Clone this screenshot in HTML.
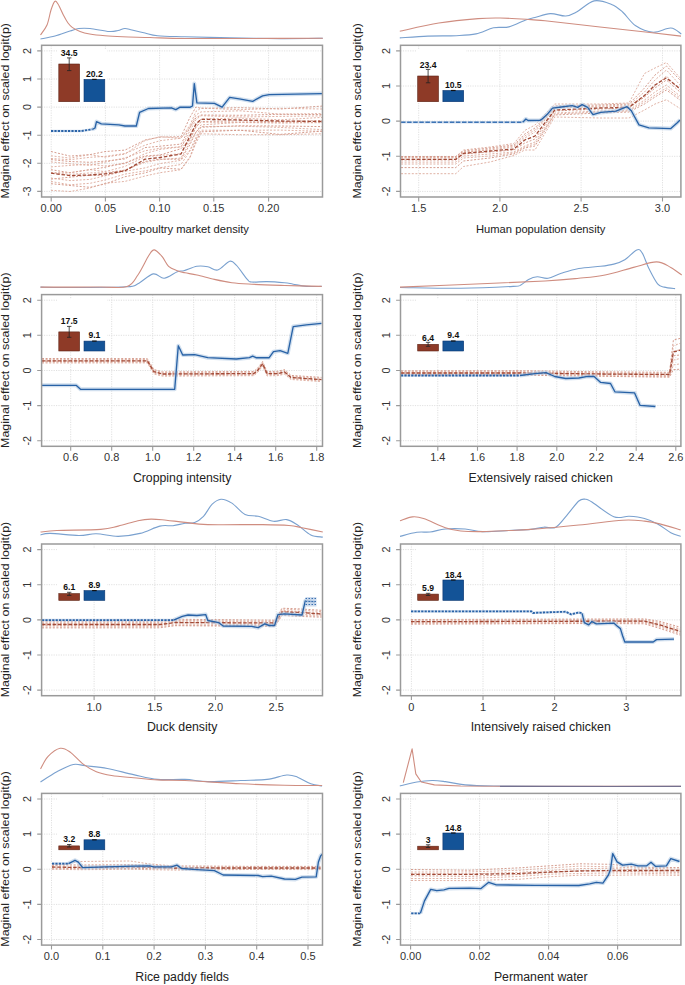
<!DOCTYPE html><html><head><meta charset="utf-8"><style>html,body{margin:0;padding:0;background:#fff;}svg{display:block;}</style></head><body>
<svg width="685" height="985" viewBox="0 0 685 985" font-family='"Liberation Sans", sans-serif'>
<rect width="685" height="985" fill="#fff"/>
<clipPath id="c00"><rect x="41.6" y="45.3" width="280.9" height="151.7"/></clipPath>
<path d="M41.6,191.4H322.5M41.6,163.3H322.5M41.6,135.2H322.5M41.6,107.1H322.5M41.6,79H322.5M41.6,50.9H322.5M51.2,45.3V197M105.4,45.3V197M159.6,45.3V197M213.8,45.3V197M268.6,45.3V197" stroke="#e0e0e0" stroke-width="1" stroke-dasharray="1.2,1.2" fill="none"/>
<rect x="57.1" y="49.8" width="50" height="53" fill="#fff"/>
<g clip-path="url(#c00)" fill="none">
<polyline points="51,151.5 70,156.1 90,154.6 105,151.6 125,150.1 145,140 160,137.1 181,136.7 190,117.2 196,107 201,108.4 240,107.7 280,109 322,106.1" stroke="#d09282" stroke-width="0.9" stroke-dasharray="2,1.6"/>
<polyline points="51,155.8 70,158.1 90,154.6 105,157.2 125,154.1 145,140.6 160,136.7 181,138.2 190,125 196,111.4 201,108.1 240,109.7 280,108.3 322,109" stroke="#dda99b" stroke-width="0.9" stroke-dasharray="2,1.6"/>
<polyline points="51,158.5 70,159.7 90,157.3 105,156.4 125,153.5 145,145.2 160,140.7 181,138.2 190,127.4 196,114.9 201,111.9 240,110.8 280,114.1 322,113.6" stroke="#dda99b" stroke-width="0.9" stroke-dasharray="2,1.6"/>
<polyline points="51,159.6 70,161.5 90,162.3 105,161.1 125,158.9 145,147.6 160,146.2 181,144.1 190,127.4 196,117.7 201,115 240,115.3 280,114.3 322,114.6" stroke="#d09282" stroke-width="0.9" stroke-dasharray="2,1.6"/>
<polyline points="51,161.9 70,163.8 90,165.4 105,162.2 125,157.9 145,150.8 160,148.2 181,146.8 190,130.8 196,119.6 201,115.7 240,117 280,116.4 322,115.9" stroke="#dda99b" stroke-width="0.9" stroke-dasharray="2,1.6"/>
<polyline points="51,166.9 70,165.4 90,164.3 105,166 125,163.6 145,153.6 160,149.4 181,146.9 190,134.5 196,124.9 201,118.9 240,118.1 280,119.8 322,117.4" stroke="#dda99b" stroke-width="0.9" stroke-dasharray="2,1.6"/>
<polyline points="51,169.7 70,172.7 90,169.6 105,167.3 125,162.9 145,155.9 160,155 181,148.7 190,139.1 196,126.8 201,121.5 240,120.9 280,121.7 322,120.5" stroke="#d09282" stroke-width="0.9" stroke-dasharray="2,1.6"/>
<polyline points="51,172.7 70,172.7 90,169.6 105,171.7 125,166.4 145,156.8 160,155.4 181,153.7 190,139.7 196,127.1 201,122.2 240,122.5 280,123 322,122.4" stroke="#dda99b" stroke-width="0.9" stroke-dasharray="2,1.6"/>
<polyline points="51,172.7 70,174.4 90,172.9 105,172.8 125,170 145,162.3 160,159.6 181,158 190,142.1 196,132.2 201,124.9 240,122.4 280,122.7 322,122.7" stroke="#dda99b" stroke-width="0.9" stroke-dasharray="2,1.6"/>
<polyline points="51,179.1 70,177.2 90,175.2 105,175.5 125,170.1 145,161.4 160,159.1 181,159.2 190,144.6 196,132 201,127.2 240,125.8 280,126 322,126.6" stroke="#d09282" stroke-width="0.9" stroke-dasharray="2,1.6"/>
<polyline points="51,178.1 70,180.6 90,179.4 105,175.9 125,171.3 145,167.9 160,163.6 181,160.3 190,150.1 196,137.3 201,126.6 240,126.2 280,127.4 322,129.6" stroke="#dda99b" stroke-width="0.9" stroke-dasharray="2,1.6"/>
<polyline points="51,181.5 70,184.8 90,183.3 105,180 125,174.1 145,170.9 160,167.7 181,164.5 190,150.9 196,139.1 201,130.2 240,130.3 280,130.1 322,131.3" stroke="#dda99b" stroke-width="0.9" stroke-dasharray="2,1.6"/>
<polyline points="51,183.7 70,185.5 90,187.3 105,184 125,176.7 145,172.9 160,168 181,169.2 190,156.9 196,140.6 201,131.8 240,130.2 280,134.4 322,131.1" stroke="#d09282" stroke-width="0.9" stroke-dasharray="2,1.6"/>
<polyline points="51,190.3 70,191.5 90,188 105,183.3 125,181.4 145,176 160,172.7 181,169.7 190,157.8 196,142.9 201,133.8 240,134.7 280,134.7 322,133.8" stroke="#dda99b" stroke-width="0.9" stroke-dasharray="2,1.6"/>
<polyline points="51,173.2 70,175.6 90,175 105,173.9 125,170.9 145,159.2 160,157.5 181,154 190,136 196,124 201,119.3 240,120 280,121 322,121.5" stroke="#a24a37" stroke-width="1.3" stroke-dasharray="3.5,1.8"/>
<polyline points="51,131 81.6,131 92.5,129.3" stroke="#a9c1e0" stroke-width="2.6" opacity="0.5"/>
<polyline points="51,131 81.6,131 92.5,129.3" stroke="#2a63a8" stroke-width="1.8" stroke-dasharray="2.2,1.2"/>
<polyline points="92.5,129.3 95,128 96.5,121.6 101.3,123.8 118.8,124.9 125,126 136.3,126 139.6,112.4 148.4,108.5 171.4,107.8 175.8,109.6 180.1,107.2 190.3,107.2 192.5,106 194.3,83.6 196.9,102.8 214.4,103.3 222.1,107.2 229.7,97.4 240.7,99.1 252.7,101.3 262.6,95.8 269.2,94.7 322,93.6" stroke="#b3c9e3" stroke-width="4" stroke-linejoin="round" opacity="0.6"/>
<polyline points="92.5,129.3 95,128 96.5,121.6 101.3,123.8 118.8,124.9 125,126 136.3,126 139.6,112.4 148.4,108.5 171.4,107.8 175.8,109.6 180.1,107.2 190.3,107.2 192.5,106 194.3,83.6 196.9,102.8 214.4,103.3 222.1,107.2 229.7,97.4 240.7,99.1 252.7,101.3 262.6,95.8 269.2,94.7 322,93.6" stroke="#2862a6" stroke-width="1.35" stroke-linejoin="round"/>
</g>
<rect x="58.8" y="64" width="20.8" height="37.7" fill="#8e3a27" stroke="#5e2414" stroke-width="0.6"/>
<rect x="84" y="79.4" width="20.8" height="22.3" fill="#135397" stroke="#0b3670" stroke-width="0.6"/>
<path d="M69.2,57.9V70.6M67,57.9h4.4M67,70.6h4.4" stroke="#222" stroke-width="0.8" fill="none"/>
<path d="M92.1,79.4h4.6" stroke="#111" stroke-width="1.2"/>
<text x="69.2" y="55.7" font-size="8.6" font-weight="bold" text-anchor="middle" fill="#111">34.5</text>
<text x="94.4" y="76.9" font-size="8.6" font-weight="bold" text-anchor="middle" fill="#111">20.2</text>
<rect x="41.6" y="45.3" width="280.9" height="151.7" fill="none" stroke="#9a9a9a" stroke-width="1.5"/>
<path d="M37.2,191.4H41.6M37.2,163.3H41.6M37.2,135.2H41.6M37.2,107.1H41.6M37.2,79H41.6M37.2,50.9H41.6M51.2,197V201.4M105.4,197V201.4M159.6,197V201.4M213.8,197V201.4M268.6,197V201.4" stroke="#9a9a9a" stroke-width="1.1" fill="none"/>
<text transform="translate(31.4,191.4) rotate(-90)" font-size="10.8" text-anchor="middle" fill="#333">-3</text>
<text transform="translate(31.4,163.3) rotate(-90)" font-size="10.8" text-anchor="middle" fill="#333">-2</text>
<text transform="translate(31.4,135.2) rotate(-90)" font-size="10.8" text-anchor="middle" fill="#333">-1</text>
<text transform="translate(31.4,107.1) rotate(-90)" font-size="10.8" text-anchor="middle" fill="#333">0</text>
<text transform="translate(31.4,79) rotate(-90)" font-size="10.8" text-anchor="middle" fill="#333">1</text>
<text transform="translate(31.4,50.9) rotate(-90)" font-size="10.8" text-anchor="middle" fill="#333">2</text>
<text x="51.2" y="212.1" font-size="11" text-anchor="middle" fill="#333">0.00</text>
<text x="105.4" y="212.1" font-size="11" text-anchor="middle" fill="#333">0.05</text>
<text x="159.6" y="212.1" font-size="11" text-anchor="middle" fill="#333">0.10</text>
<text x="213.8" y="212.1" font-size="11" text-anchor="middle" fill="#333">0.15</text>
<text x="268.6" y="212.1" font-size="11" text-anchor="middle" fill="#333">0.20</text>
<text x="182.1" y="233.1" font-size="11.2" text-anchor="middle" fill="#222">Live-poultry market density</text>
<text transform="translate(8.9,110.8) rotate(-90)" font-size="11.3" text-anchor="middle" fill="#222" textLength="175.5" lengthAdjust="spacingAndGlyphs">Maginal effect on scaled logit(p)</text>
<path d="M40.5,39 C42.9,38.5 50.1,37.3 55,36 C59.9,34.7 66,32.2 70,31 C74,29.8 75.5,28.9 78.8,28.5 C82.1,28.1 84.9,28 90,28.5 C95.1,29 104.7,31.2 109.4,31.5 C114.1,31.8 115.4,31 118,30.5 C120.6,30 122.5,28.6 124.8,28.5 C127.1,28.4 128.6,29.2 132,30 C135.4,30.8 140.7,32 145,33 C149.3,34 150.9,35.1 157.6,35.7 C164.3,36.3 172.9,36.4 185,36.8 C197.1,37.1 214.2,37.5 230,37.8 C245.8,38.1 264.5,38.5 280,38.6 C295.5,38.7 315.7,38.3 322.8,38.2" stroke="#7aa1cf" stroke-width="1.1" fill="none"/>
<path d="M40.5,35 C41.6,33.3 45.2,29.2 47,25 C48.8,20.8 49.7,13.9 51,10 C52.3,6.1 53.5,2.5 54.7,1.5 C55.9,0.5 56.5,1.7 58,4 C59.5,6.3 61.8,12.1 63.5,15.3 C65.2,18.5 66.5,21 68,23 C69.5,25 70.2,26 72.2,27.4 C74.2,28.8 77.1,30.4 80,31.5 C82.9,32.6 85.5,33.3 89.7,34 C93.9,34.7 99.5,35.3 105,35.8 C110.5,36.3 115.1,36.5 122.6,36.8 C130.1,37.1 139.6,37.2 150,37.5 C160.4,37.8 168.3,38.3 185,38.5 C201.7,38.7 227,38.5 250,38.5 C273,38.5 310.7,38.2 322.8,38.2" stroke="#cf8d80" stroke-width="1.1" fill="none" stroke-linejoin="round"/>
<clipPath id="c01"><rect x="400.5" y="45.3" width="280.4" height="151.7"/></clipPath>
<path d="M400.5,191.4H680.9M400.5,156.3H680.9M400.5,121.1H680.9M400.5,86H680.9M400.5,50.9H680.9M418.7,45.3V197M499.9,45.3V197M581.1,45.3V197M662.5,45.3V197" stroke="#e0e0e0" stroke-width="1" stroke-dasharray="1.2,1.2" fill="none"/>
<rect x="416" y="49.8" width="50" height="53" fill="#fff"/>
<g clip-path="url(#c01)" fill="none">
<polyline points="401,156.6 455.8,156.6 463.5,150 490,147 513.9,143.5 524.8,130.4 535,125 554.7,104 600,104 629,103 644.5,73.5 655,68 666.4,62.5 680,77.8" stroke="#dda99b" stroke-width="0.9" stroke-dasharray="2,1.6"/>
<polyline points="401,156.6 455.8,156.6 463.5,151 490,148 513.9,145 524.8,134 535,128 554.7,106 600,105 629,104 644.5,88 655,75 666.4,66 680,80" stroke="#d09282" stroke-width="0.9" stroke-dasharray="2,1.6"/>
<polyline points="401,157.5 455.8,157.5 463.5,152 490,150 513.9,147 524.8,138 535,132 554.7,108 600,106 629,105 644.5,92 655,80 666.4,70 680,85" stroke="#dda99b" stroke-width="0.9" stroke-dasharray="2,1.6"/>
<polyline points="401,158 455.8,158 463.5,152.5 490,149 513.9,146 524.8,136 535,130 554.7,107 600,107 629,106 644.5,96 655,86 666.4,76 680,90" stroke="#dda99b" stroke-width="0.9" stroke-dasharray="2,1.6"/>
<polyline points="401,160 455.8,160 463.5,154 490,152 513.9,150 524.8,143 535,139 554.7,111 600,109 629,108 644.5,97 655,88 666.4,80 680,92" stroke="#d09282" stroke-width="0.9" stroke-dasharray="2,1.6"/>
<polyline points="401,162.1 455.8,162.1 463.5,156 490,154 513.9,152 524.8,146 535,142 554.7,113 600,111 629,110 644.5,100 655,92 666.4,85 680,96" stroke="#dda99b" stroke-width="0.9" stroke-dasharray="2,1.6"/>
<polyline points="401,164 455.8,164 463.5,158 490,156 513.9,153 524.8,147 535,144 554.7,114 600,112 629,111 644.5,102 655,95 666.4,88 680,98" stroke="#dda99b" stroke-width="0.9" stroke-dasharray="2,1.6"/>
<polyline points="401,167.6 455.8,167.6 463.5,161 490,158 513.9,154 524.8,148 535,146 554.7,115 600,113 629,112 644.5,104 655,97 666.4,90 680,100" stroke="#d09282" stroke-width="0.9" stroke-dasharray="2,1.6"/>
<polyline points="401,173.7 455.8,173.7 463.5,166.5 490,162 513.9,155.5 524.8,150 535,150 554.7,117 600,118 629,118 644.5,110 655,104 666.4,99.7 680,108.5" stroke="#dda99b" stroke-width="0.9" stroke-dasharray="2,1.6"/>
<polyline points="401,159.3 455.8,159.3 463.5,153.4 490,151 513.9,149 524.8,140 535,136 554.7,110 600,108 629,107.4 644.5,95.4 655,85 666.4,77.8 680,88.8" stroke="#a24a37" stroke-width="1.3" stroke-dasharray="3.5,1.8"/>
<polyline points="401,122.3 522.6,122.3" stroke="#a9c1e0" stroke-width="2.6" opacity="0.5"/>
<polyline points="401,122.3 522.6,122.3" stroke="#3d74b5" stroke-width="1.5" stroke-dasharray="4.5,1.6"/>
<polyline points="522.6,122.3 524,121 525.9,119 528,120.5 540,120.3 541.6,119.4 547,114.6 552.5,108.1 561.3,107 572.2,105.7 577.7,107.4 582.1,104.6 587.6,107.4 593,114.6 600.7,112.4 616,111.1 627,106.7 631.3,110.7 639,124.9 648.9,127.8 670.8,128.6 677.3,122.7 680,120" stroke="#b3c9e3" stroke-width="4" stroke-linejoin="round" opacity="0.6"/>
<polyline points="522.6,122.3 524,121 525.9,119 528,120.5 540,120.3 541.6,119.4 547,114.6 552.5,108.1 561.3,107 572.2,105.7 577.7,107.4 582.1,104.6 587.6,107.4 593,114.6 600.7,112.4 616,111.1 627,106.7 631.3,110.7 639,124.9 648.9,127.8 670.8,128.6 677.3,122.7 680,120" stroke="#2862a6" stroke-width="1.35" stroke-linejoin="round"/>
</g>
<rect x="417.7" y="76" width="20.8" height="25.7" fill="#8e3a27" stroke="#5e2414" stroke-width="0.6"/>
<rect x="442.9" y="90.5" width="20.8" height="11.2" fill="#135397" stroke="#0b3670" stroke-width="0.6"/>
<path d="M428.1,69.4V82.8M425.9,69.4h4.4M425.9,82.8h4.4" stroke="#222" stroke-width="0.8" fill="none"/>
<path d="M451,90.5h4.6" stroke="#111" stroke-width="1.2"/>
<text x="428.1" y="67.5" font-size="8.6" font-weight="bold" text-anchor="middle" fill="#111">23.4</text>
<text x="453.3" y="87.9" font-size="8.6" font-weight="bold" text-anchor="middle" fill="#111">10.5</text>
<rect x="400.5" y="45.3" width="280.4" height="151.7" fill="none" stroke="#9a9a9a" stroke-width="1.5"/>
<path d="M396.1,191.4H400.5M396.1,156.3H400.5M396.1,121.1H400.5M396.1,86H400.5M396.1,50.9H400.5M418.7,197V201.4M499.9,197V201.4M581.1,197V201.4M662.5,197V201.4" stroke="#9a9a9a" stroke-width="1.1" fill="none"/>
<text transform="translate(390.3,191.4) rotate(-90)" font-size="10.8" text-anchor="middle" fill="#333">-2</text>
<text transform="translate(390.3,156.3) rotate(-90)" font-size="10.8" text-anchor="middle" fill="#333">-1</text>
<text transform="translate(390.3,121.1) rotate(-90)" font-size="10.8" text-anchor="middle" fill="#333">0</text>
<text transform="translate(390.3,86) rotate(-90)" font-size="10.8" text-anchor="middle" fill="#333">1</text>
<text transform="translate(390.3,50.9) rotate(-90)" font-size="10.8" text-anchor="middle" fill="#333">2</text>
<text x="418.7" y="212.1" font-size="11" text-anchor="middle" fill="#333">1.5</text>
<text x="499.9" y="212.1" font-size="11" text-anchor="middle" fill="#333">2.0</text>
<text x="581.1" y="212.1" font-size="11" text-anchor="middle" fill="#333">2.5</text>
<text x="662.5" y="212.1" font-size="11" text-anchor="middle" fill="#333">3.0</text>
<text x="540.7" y="233.1" font-size="11.2" text-anchor="middle" fill="#222">Human population density</text>
<text transform="translate(361,110.8) rotate(-90)" font-size="11.3" text-anchor="middle" fill="#222" textLength="175.5" lengthAdjust="spacingAndGlyphs">Maginal effect on scaled logit(p)</text>
<path d="M399.8,37.9 C404.5,37.6 418.4,36.5 427.8,36.1 C437.2,35.7 448.3,36.1 456.3,35.7 C464.3,35.3 469.8,35.2 476,33.9 C482.2,32.6 488,29 493.5,27.8 C499,26.6 503.4,28.2 508.9,26.9 C514.4,25.5 522,21.3 526.4,19.7 C530.8,18.1 531,18.5 535,17.5 C539,16.5 545.2,13.8 550.3,13.6 C555.4,13.3 561.3,16.3 565.7,16 C570.1,15.7 571.9,14.5 576.6,12 C581.3,9.5 588.3,2.2 594.1,0.9 C599.9,-0.4 606.9,2.6 611.6,4.4 C616.4,6.2 618.6,8.4 622.6,12 C626.6,15.6 630.6,22.4 635.7,25.8 C640.8,29.2 647.4,31.8 653.2,32.2 C659.1,32.6 666.1,27.7 670.8,28 C675.5,28.3 679.5,32.9 681.3,33.9" stroke="#7aa1cf" stroke-width="1.1" fill="none"/>
<path d="M399.8,31.3 C406.3,29.9 425.7,25.1 438.8,23 C451.9,20.9 468,19.4 478.2,18.6 C488.4,17.8 492.1,17.9 500.1,18 C508.1,18.1 518.9,18.8 526.4,19.3 C533.9,19.8 532.7,19.5 545,20.8 C557.3,22.1 582.5,25.1 600,27 C617.5,28.9 636.5,31 650,32.5 C663.5,34 675.8,35.5 681,36.1" stroke="#cf8d80" stroke-width="1.1" fill="none" stroke-linejoin="round"/>
<clipPath id="c10"><rect x="41.6" y="294.6" width="280.9" height="151.7"/></clipPath>
<path d="M41.6,440.7H322.5M41.6,405.6H322.5M41.6,370.5H322.5M41.6,335.3H322.5M41.6,300.2H322.5M70.7,294.6V446.3M111.7,294.6V446.3M152.7,294.6V446.3M193.7,294.6V446.3M234.7,294.6V446.3M275.7,294.6V446.3M316.7,294.6V446.3" stroke="#e0e0e0" stroke-width="1" stroke-dasharray="1.2,1.2" fill="none"/>
<rect x="57.1" y="299.1" width="50" height="53" fill="#fff"/>
<g clip-path="url(#c10)" fill="none">
<polyline points="42,358.5 147.3,358.6 153.9,369.5 162.6,371.9 253.8,371.5 258,367.7 262.6,361.5 267,371.6 277.9,371.3 284.5,369.6 291,375.4 321.5,377.4" stroke="#d09282" stroke-width="0.9" stroke-dasharray="2,1.6"/>
<polyline points="42,359.6 147.3,359.5 153.9,370.4 162.6,372.6 253.8,372.3 258,368.8 262.6,362.5 267,372.4 277.9,372.4 284.5,370.4 291,376.2 321.5,378.3" stroke="#dda99b" stroke-width="0.9" stroke-dasharray="2,1.6"/>
<polyline points="42,360.3 147.3,360.2 153.9,371.4 162.6,373.6 253.8,373.2 258,369.7 262.6,363.4 267,373.3 277.9,373.1 284.5,371.6 291,376.9 321.5,379.3" stroke="#dda99b" stroke-width="0.9" stroke-dasharray="2,1.6"/>
<polyline points="42,361.4 147.3,361.1 153.9,372 162.6,374.3 253.8,374.2 258,370.4 262.6,364.3 267,374 277.9,374 284.5,372.3 291,377.8 321.5,380.1" stroke="#d09282" stroke-width="0.9" stroke-dasharray="2,1.6"/>
<polyline points="42,362.1 147.3,362.2 153.9,373.1 162.6,375.4 253.8,375 258,371.5 262.6,365.2 267,374.8 277.9,375 284.5,373.4 291,378.8 321.5,380.9" stroke="#dda99b" stroke-width="0.9" stroke-dasharray="2,1.6"/>
<polyline points="42,363 147.3,362.9 153.9,374 162.6,376.2 253.8,375.7 258,372 262.6,366.1 267,375.9 277.9,375.6 284.5,374.2 291,379.5 321.5,381.6" stroke="#dda99b" stroke-width="0.9" stroke-dasharray="2,1.6"/>
<polyline points="42,360.8 147.3,360.8 153.9,371.7 162.6,374 253.8,373.6 258,370 262.6,363.8 267,373.6 277.9,373.6 284.5,371.9 291,377.4 321.5,379.6" stroke="#a24a37" stroke-width="1.3" stroke-dasharray="3.5,1.8"/>
<polyline points="42,385.3 76.1,385.3 80.5,389.3 174.7,389.3 178.3,345.8 182.7,355 194.7,354.6 207.8,357.7 236.3,359 249.4,357.7 252.7,356.1 256,357.7 269.2,357.7 273.5,351.7 280.1,350.7 287.8,353.3 293.2,326.6 306.4,324.8 321.5,323.3" stroke="#b3c9e3" stroke-width="4" stroke-linejoin="round" opacity="0.6"/>
<polyline points="42,385.3 76.1,385.3 80.5,389.3 174.7,389.3 178.3,345.8 182.7,355 194.7,354.6 207.8,357.7 236.3,359 249.4,357.7 252.7,356.1 256,357.7 269.2,357.7 273.5,351.7 280.1,350.7 287.8,353.3 293.2,326.6 306.4,324.8 321.5,323.3" stroke="#2862a6" stroke-width="1.35" stroke-linejoin="round"/>
</g>
<rect x="58.8" y="331.9" width="20.8" height="19.1" fill="#8e3a27" stroke="#5e2414" stroke-width="0.6"/>
<rect x="84" y="341.1" width="20.8" height="9.9" fill="#135397" stroke="#0b3670" stroke-width="0.6"/>
<path d="M69.2,326.4V337.3M67,326.4h4.4M67,337.3h4.4" stroke="#222" stroke-width="0.8" fill="none"/>
<path d="M92.1,341.1h4.6" stroke="#111" stroke-width="1.2"/>
<text x="69.2" y="324.2" font-size="8.6" font-weight="bold" text-anchor="middle" fill="#111">17.5</text>
<text x="94.4" y="338.4" font-size="8.6" font-weight="bold" text-anchor="middle" fill="#111">9.1</text>
<rect x="41.6" y="294.6" width="280.9" height="151.7" fill="none" stroke="#9a9a9a" stroke-width="1.5"/>
<path d="M37.2,440.7H41.6M37.2,405.6H41.6M37.2,370.5H41.6M37.2,335.3H41.6M37.2,300.2H41.6M70.7,446.3V450.7M111.7,446.3V450.7M152.7,446.3V450.7M193.7,446.3V450.7M234.7,446.3V450.7M275.7,446.3V450.7M316.7,446.3V450.7" stroke="#9a9a9a" stroke-width="1.1" fill="none"/>
<text transform="translate(31.4,440.7) rotate(-90)" font-size="10.8" text-anchor="middle" fill="#333">-2</text>
<text transform="translate(31.4,405.6) rotate(-90)" font-size="10.8" text-anchor="middle" fill="#333">-1</text>
<text transform="translate(31.4,370.5) rotate(-90)" font-size="10.8" text-anchor="middle" fill="#333">0</text>
<text transform="translate(31.4,335.3) rotate(-90)" font-size="10.8" text-anchor="middle" fill="#333">1</text>
<text transform="translate(31.4,300.2) rotate(-90)" font-size="10.8" text-anchor="middle" fill="#333">2</text>
<text x="70.7" y="461.4" font-size="11" text-anchor="middle" fill="#333">0.6</text>
<text x="111.7" y="461.4" font-size="11" text-anchor="middle" fill="#333">0.8</text>
<text x="152.7" y="461.4" font-size="11" text-anchor="middle" fill="#333">1.0</text>
<text x="193.7" y="461.4" font-size="11" text-anchor="middle" fill="#333">1.2</text>
<text x="234.7" y="461.4" font-size="11" text-anchor="middle" fill="#333">1.4</text>
<text x="275.7" y="461.4" font-size="11" text-anchor="middle" fill="#333">1.6</text>
<text x="316.7" y="461.4" font-size="11" text-anchor="middle" fill="#333">1.8</text>
<text x="182.1" y="482.3" font-size="12.3" text-anchor="middle" fill="#222">Cropping intensity</text>
<text transform="translate(8.9,360.2) rotate(-90)" font-size="11.3" text-anchor="middle" fill="#222" textLength="175.5" lengthAdjust="spacingAndGlyphs">Maginal effect on scaled logit(p)</text>
<path d="M40.5,287.1 C47.1,287.2 65.6,287.6 80,287.5 C94.4,287.4 117.3,287.4 127,286.8 C136.7,286.2 133.5,286 137.9,283.8 C142.3,281.6 148.8,274.8 153.2,273.9 C157.6,273 160.2,278.7 164.2,278.3 C168.2,277.9 174,273 177.3,271.7 C180.6,270.4 180.5,271.6 183.8,270.7 C187.1,269.8 192.9,267 196.9,266.3 C200.9,265.6 204.3,266.1 207.8,266.7 C211.3,267.3 214,270.9 217.7,270 C221.3,269.1 226.6,262 229.7,261.2 C232.8,260.4 233.4,262.2 236.3,265.2 C239.2,268.2 244.8,276.6 247.3,279.4 C249.9,282.2 248.3,281.6 251.6,282 C254.9,282.4 261.5,281.5 267,281.6 C272.5,281.7 280.1,282.3 284.5,282.7 C288.9,283.1 289.6,283.6 293.2,284.2 C296.8,284.8 301.6,286 306.4,286.4 C311.1,286.8 319.1,286.4 321.7,286.4" stroke="#7aa1cf" stroke-width="1.1" fill="none"/>
<path d="M40.5,287.1 C50.4,287.1 85.6,287.1 100,287 C114.4,286.9 120.7,288.6 127,286.6 C133.3,284.6 134.2,280.2 137.9,275 C141.6,269.8 146.2,259.5 148.9,255.3 C151.6,251.1 152.1,249.7 154.3,249.9 C156.5,250.1 159.6,253.7 162,256.4 C164.4,259.1 166,263.9 168.6,266.3 C171.2,268.7 174.6,269.6 177.3,270.7 C180,271.8 181.7,272.1 185,272.8 C188.3,273.5 192,273.9 196.9,275 C201.8,276.1 208.6,278.1 214.4,279.4 C220.2,280.7 225.7,281.9 231.9,282.7 C238.1,283.5 242.8,283.7 251.6,284.2 C260.4,284.7 272.8,285.1 284.5,285.5 C296.2,285.9 315.5,286.2 321.7,286.4" stroke="#cf8d80" stroke-width="1.1" fill="none" stroke-linejoin="round"/>
<clipPath id="c11"><rect x="400.5" y="294.6" width="280.4" height="151.7"/></clipPath>
<path d="M400.5,440.7H680.9M400.5,405.6H680.9M400.5,370.5H680.9M400.5,335.3H680.9M400.5,300.2H680.9M437.8,294.6V446.3M477.5,294.6V446.3M517.1,294.6V446.3M556.8,294.6V446.3M596.5,294.6V446.3M636.2,294.6V446.3M675.8,294.6V446.3" stroke="#e0e0e0" stroke-width="1" stroke-dasharray="1.2,1.2" fill="none"/>
<rect x="416" y="299.1" width="50" height="53" fill="#fff"/>
<g clip-path="url(#c11)" fill="none">
<polyline points="401,370.8 520,370.7 600,371.8 669.5,372.3 673.4,340 680.5,338.3" stroke="#d09282" stroke-width="0.9" stroke-dasharray="2,1.6"/>
<polyline points="401,371.7 520,371.7 600,372.7 669.5,373.1 673.4,345.8 680.5,343.2" stroke="#dda99b" stroke-width="0.9" stroke-dasharray="2,1.6"/>
<polyline points="401,372.2 520,372.2 600,373.2 669.5,374.1 673.4,351.3 680.5,349.6" stroke="#dda99b" stroke-width="0.9" stroke-dasharray="2,1.6"/>
<polyline points="401,373.1 520,372.9 600,373.9 669.5,374.8 673.4,355.8 680.5,354.9" stroke="#d09282" stroke-width="0.9" stroke-dasharray="2,1.6"/>
<polyline points="401,373.8 520,373.6 600,374.7 669.5,375.6 673.4,360.1 680.5,358.4" stroke="#dda99b" stroke-width="0.9" stroke-dasharray="2,1.6"/>
<polyline points="401,374.4 520,374.3 600,375.6 669.5,376.5 673.4,364.9 680.5,363.8" stroke="#dda99b" stroke-width="0.9" stroke-dasharray="2,1.6"/>
<polyline points="401,375.3 520,375.2 600,376.3 669.5,377.2 673.4,369.6 680.5,369.2" stroke="#d09282" stroke-width="0.9" stroke-dasharray="2,1.6"/>
<polyline points="401,373 520,373 600,374 669.5,374.5 673.4,352 680.5,350" stroke="#a24a37" stroke-width="1.3" stroke-dasharray="3.5,1.8"/>
<polyline points="401,375.5 520,375.5" stroke="#a9c1e0" stroke-width="2.6" opacity="0.5"/>
<polyline points="401,375.5 520,375.5" stroke="#2a63a8" stroke-width="1.8" stroke-dasharray="2.2,1.2"/>
<polyline points="520,375.5 535,373.6 546,372.6 554.7,376.5 565.7,378.5 578.8,378 587.6,376.3 594.1,376.5 600.7,382.4 610.5,383.5 614.9,391.8 634.6,392.9 640.1,405.4 655.4,406.5" stroke="#b3c9e3" stroke-width="4" stroke-linejoin="round" opacity="0.6"/>
<polyline points="520,375.5 535,373.6 546,372.6 554.7,376.5 565.7,378.5 578.8,378 587.6,376.3 594.1,376.5 600.7,382.4 610.5,383.5 614.9,391.8 634.6,392.9 640.1,405.4 655.4,406.5" stroke="#2862a6" stroke-width="1.35" stroke-linejoin="round"/>
</g>
<rect x="417.7" y="344.3" width="20.8" height="6.7" fill="#8e3a27" stroke="#5e2414" stroke-width="0.6"/>
<rect x="442.9" y="341" width="20.8" height="10" fill="#135397" stroke="#0b3670" stroke-width="0.6"/>
<path d="M428.1,342.3V346.3M425.9,342.3h4.4M425.9,346.3h4.4" stroke="#222" stroke-width="0.8" fill="none"/>
<path d="M451,341h4.6" stroke="#111" stroke-width="1.2"/>
<text x="428.1" y="340.5" font-size="8.6" font-weight="bold" text-anchor="middle" fill="#111">6.4</text>
<text x="453.3" y="338.2" font-size="8.6" font-weight="bold" text-anchor="middle" fill="#111">9.4</text>
<rect x="400.5" y="294.6" width="280.4" height="151.7" fill="none" stroke="#9a9a9a" stroke-width="1.5"/>
<path d="M396.1,440.7H400.5M396.1,405.6H400.5M396.1,370.5H400.5M396.1,335.3H400.5M396.1,300.2H400.5M437.8,446.3V450.7M477.5,446.3V450.7M517.1,446.3V450.7M556.8,446.3V450.7M596.5,446.3V450.7M636.2,446.3V450.7M675.8,446.3V450.7" stroke="#9a9a9a" stroke-width="1.1" fill="none"/>
<text transform="translate(390.3,440.7) rotate(-90)" font-size="10.8" text-anchor="middle" fill="#333">-2</text>
<text transform="translate(390.3,405.6) rotate(-90)" font-size="10.8" text-anchor="middle" fill="#333">-1</text>
<text transform="translate(390.3,370.5) rotate(-90)" font-size="10.8" text-anchor="middle" fill="#333">0</text>
<text transform="translate(390.3,335.3) rotate(-90)" font-size="10.8" text-anchor="middle" fill="#333">1</text>
<text transform="translate(390.3,300.2) rotate(-90)" font-size="10.8" text-anchor="middle" fill="#333">2</text>
<text x="437.8" y="461.4" font-size="11" text-anchor="middle" fill="#333">1.4</text>
<text x="477.5" y="461.4" font-size="11" text-anchor="middle" fill="#333">1.6</text>
<text x="517.1" y="461.4" font-size="11" text-anchor="middle" fill="#333">1.8</text>
<text x="556.8" y="461.4" font-size="11" text-anchor="middle" fill="#333">2.0</text>
<text x="596.5" y="461.4" font-size="11" text-anchor="middle" fill="#333">2.2</text>
<text x="636.2" y="461.4" font-size="11" text-anchor="middle" fill="#333">2.4</text>
<text x="675.8" y="461.4" font-size="11" text-anchor="middle" fill="#333">2.6</text>
<text x="540.7" y="482.3" font-size="12.3" text-anchor="middle" fill="#222">Extensively raised chicken</text>
<text transform="translate(361,360.2) rotate(-90)" font-size="11.3" text-anchor="middle" fill="#222" textLength="175.5" lengthAdjust="spacingAndGlyphs">Maginal effect on scaled logit(p)</text>
<path d="M400,287.5 C410.1,287.6 441.8,288.4 460.7,288.2 C479.6,288 503.2,286.9 513.2,286.4 C523.2,285.8 518.3,286.1 520.9,284.9 C523.5,283.7 525.9,280.8 528.6,279.4 C531.3,278 534,277 537.3,276.8 C540.5,276.6 544.1,278.9 548.1,278.3 C552.1,277.7 556.2,274.9 561.3,273.3 C566.4,271.7 572.2,269.7 578.8,268.5 C585.4,267.3 594.9,267 600.7,266.3 C606.5,265.6 609.8,265.2 613.8,264.1 C617.8,263 621,262.1 624.8,259.7 C628.6,257.3 633.9,251 636.8,249.9 C639.7,248.8 640.3,250 642.3,253.1 C644.3,256.2 646.3,263.4 648.9,268.5 C651.5,273.6 655,280.7 657.6,283.8 C660.2,286.9 661.3,286.3 664.2,287.1 C667.1,287.9 673.3,288.4 675.1,288.6" stroke="#7aa1cf" stroke-width="1.1" fill="none"/>
<path d="M400,287.1 C411.7,286.6 445.8,285.2 470,284.2 C494.2,283.2 526.9,282 545,281 C563.1,280 568.8,279.3 578.8,278.3 C588.8,277.3 596,276.8 605.1,275 C614.2,273.2 624.9,269.6 633.5,267.4 C642.1,265.2 650.3,261.9 656.5,261.9 C662.7,261.9 666.6,265.2 670.8,267.4 C675,269.6 679.9,273.7 681.7,275" stroke="#cf8d80" stroke-width="1.1" fill="none" stroke-linejoin="round"/>
<clipPath id="c20"><rect x="41.6" y="544" width="280.9" height="151.7"/></clipPath>
<path d="M41.6,690.1H322.5M41.6,655H322.5M41.6,619.9H322.5M41.6,584.7H322.5M41.6,549.6H322.5M94.1,544V695.7M154.8,544V695.7M215.5,544V695.7M276.2,544V695.7" stroke="#e0e0e0" stroke-width="1" stroke-dasharray="1.2,1.2" fill="none"/>
<rect x="57.1" y="548.5" width="50" height="53" fill="#fff"/>
<g clip-path="url(#c20)" fill="none">
<polyline points="42,621.1 160,621.2 175,619.2 275,620.2 282,608.2 300,608.9 321.5,610.3" stroke="#d09282" stroke-width="0.9" stroke-dasharray="2,1.6"/>
<polyline points="42,622.2 160,622.5 175,620.3 275,621.3 282,609 300,609.9 321.5,611.6" stroke="#dda99b" stroke-width="0.9" stroke-dasharray="2,1.6"/>
<polyline points="42,623.4 160,623.4 175,621.1 275,622 282,610.4 300,611.5 321.5,613" stroke="#dda99b" stroke-width="0.9" stroke-dasharray="2,1.6"/>
<polyline points="42,624.3 160,624.7 175,622.3 275,623.3 282,611.5 300,612.2 321.5,614.2" stroke="#d09282" stroke-width="0.9" stroke-dasharray="2,1.6"/>
<polyline points="42,625.5 160,625.5 175,623.9 275,624.5 282,612.9 300,614.1 321.5,615.2" stroke="#dda99b" stroke-width="0.9" stroke-dasharray="2,1.6"/>
<polyline points="42,626.9 160,626.6 175,625 275,625.5 282,614.5 300,615.3 321.5,616.2" stroke="#dda99b" stroke-width="0.9" stroke-dasharray="2,1.6"/>
<polyline points="42,627.9 160,627.8 175,625.7 275,626.3 282,615.4 300,616.4 321.5,617.2" stroke="#d09282" stroke-width="0.9" stroke-dasharray="2,1.6"/>
<polyline points="42,624.5 160,624.5 175,622.5 275,623 282,612 300,612.5 321.5,614" stroke="#a24a37" stroke-width="1.3" stroke-dasharray="3.5,1.8"/>
<polyline points="42,620.1 173.6,620.1" stroke="#a9c1e0" stroke-width="2.6" opacity="0.5"/>
<polyline points="42,620.1 173.6,620.1" stroke="#2a63a8" stroke-width="1.8" stroke-dasharray="2.2,1.2"/>
<polyline points="173.6,620.1 182.3,616.4 188.1,615 196.9,615.5 205.7,614.6 207.8,620.5 218.8,622.7 223.2,626 251.6,626.4 258.2,627.7 264.8,623.8 269.2,625.5 274.6,625.5 277.9,614.6 284.5,613.9 302,615 305.3,600.8 315.1,601.9" stroke="#b3c9e3" stroke-width="4" stroke-linejoin="round" opacity="0.6"/>
<polyline points="173.6,620.1 182.3,616.4 188.1,615 196.9,615.5 205.7,614.6 207.8,620.5 218.8,622.7 223.2,626 251.6,626.4 258.2,627.7 264.8,623.8 269.2,625.5 274.6,625.5 277.9,614.6 284.5,613.9 302,615 305.3,600.8 315.1,601.9" stroke="#2862a6" stroke-width="1.35" stroke-linejoin="round"/>
<rect x="305.5" y="597" width="11" height="9.5" fill="#b9cde7" opacity="0.7"/>
<path d="M305.5,598.5H316.5M305.5,601.5H316.5M305.5,604.5H316.5" stroke="#3a70b0" stroke-width="1" stroke-dasharray="1.5,1.5"/>
</g>
<rect x="58.8" y="593.6" width="20.8" height="6.8" fill="#8e3a27" stroke="#5e2414" stroke-width="0.6"/>
<rect x="84" y="590.6" width="20.8" height="9.8" fill="#135397" stroke="#0b3670" stroke-width="0.6"/>
<path d="M69.2,592.3V595.4M67,592.3h4.4M67,595.4h4.4" stroke="#222" stroke-width="0.8" fill="none"/>
<path d="M92.1,590.6h4.6" stroke="#111" stroke-width="1.2"/>
<text x="69.2" y="589.9" font-size="8.6" font-weight="bold" text-anchor="middle" fill="#111">6.1</text>
<text x="94.4" y="588.2" font-size="8.6" font-weight="bold" text-anchor="middle" fill="#111">8.9</text>
<rect x="41.6" y="544" width="280.9" height="151.7" fill="none" stroke="#9a9a9a" stroke-width="1.5"/>
<path d="M37.2,690.1H41.6M37.2,655H41.6M37.2,619.9H41.6M37.2,584.7H41.6M37.2,549.6H41.6M94.1,695.7V700.1M154.8,695.7V700.1M215.5,695.7V700.1M276.2,695.7V700.1" stroke="#9a9a9a" stroke-width="1.1" fill="none"/>
<text transform="translate(31.4,690.1) rotate(-90)" font-size="10.8" text-anchor="middle" fill="#333">-2</text>
<text transform="translate(31.4,655) rotate(-90)" font-size="10.8" text-anchor="middle" fill="#333">-1</text>
<text transform="translate(31.4,619.9) rotate(-90)" font-size="10.8" text-anchor="middle" fill="#333">0</text>
<text transform="translate(31.4,584.7) rotate(-90)" font-size="10.8" text-anchor="middle" fill="#333">1</text>
<text transform="translate(31.4,549.6) rotate(-90)" font-size="10.8" text-anchor="middle" fill="#333">2</text>
<text x="94.1" y="710.8" font-size="11" text-anchor="middle" fill="#333">1.0</text>
<text x="154.8" y="710.8" font-size="11" text-anchor="middle" fill="#333">1.5</text>
<text x="215.5" y="710.8" font-size="11" text-anchor="middle" fill="#333">2.0</text>
<text x="276.2" y="710.8" font-size="11" text-anchor="middle" fill="#333">2.5</text>
<text x="182.1" y="730.6" font-size="12.3" text-anchor="middle" fill="#222">Duck density</text>
<text transform="translate(8.9,609.5) rotate(-90)" font-size="11.3" text-anchor="middle" fill="#222" textLength="175.5" lengthAdjust="spacingAndGlyphs">Maginal effect on scaled logit(p)</text>
<path d="M40.5,534.9 C42.1,534.6 43.9,533.3 50.3,533.4 C56.7,533.5 71.1,535.4 78.8,535.5 C86.5,535.6 89.7,533.6 96.3,533.8 C102.9,533.9 110.9,536.5 118.2,536.4 C125.5,536.3 133.2,535.1 140.1,533.4 C147,531.7 154.3,527.4 159.8,526.1 C165.3,524.8 168.8,526.2 173,525.7 C177.2,525.2 181.4,523.8 185,523.3 C188.6,522.8 191.6,523.6 194.7,522.4 C197.8,521.2 200.6,519.3 203.5,516.3 C206.4,513.3 209.3,507 212.2,504.2 C215.1,501.4 217.7,499.4 221,499.2 C224.3,499 227.9,500.6 231.9,503.1 C235.9,505.7 240.7,512.3 245.1,514.5 C249.5,516.7 253.5,515.2 258.2,516.3 C262.9,517.4 268.8,520.8 273.5,521.3 C278.2,521.8 282.7,519 286.7,519.6 C290.7,520.2 293.6,522.5 297.6,525 C301.6,527.5 306.6,532.9 310.8,534.9 C315,536.9 320.8,536.7 322.8,537.1" stroke="#7aa1cf" stroke-width="1.1" fill="none"/>
<path d="M40.5,532 C43.2,531.8 46.9,530.9 56.9,530.5 C66.9,530.1 90.5,530.1 100.7,529.4 C110.9,528.7 112,527.5 118.2,526.1 C124.4,524.7 132.4,521.9 137.9,520.7 C143.4,519.5 146.2,519.2 151,519.1 C155.8,519 160.7,519.7 166.4,520.2 C172.1,520.8 178.1,521.7 185,522.4 C191.9,523.1 194.9,524.2 207.8,524.6 C220.7,525 249.1,524.5 262.6,524.6 C276.1,524.8 282.3,525 288.9,525.5 C295.5,526 296.4,526.6 302,527.7 C307.6,528.8 319.3,531.3 322.8,532" stroke="#cf8d80" stroke-width="1.1" fill="none" stroke-linejoin="round"/>
<clipPath id="c21"><rect x="400.5" y="544" width="280.4" height="151.7"/></clipPath>
<path d="M400.5,690.1H680.9M400.5,655H680.9M400.5,619.9H680.9M400.5,584.7H680.9M400.5,549.6H680.9M411.4,544V695.7M483,544V695.7M554.6,544V695.7M626.2,544V695.7" stroke="#e0e0e0" stroke-width="1" stroke-dasharray="1.2,1.2" fill="none"/>
<rect x="416" y="548.5" width="50" height="53" fill="#fff"/>
<g clip-path="url(#c21)" fill="none">
<polyline points="411,619.5 600,619 644.5,618.9 660,621.4 680.5,627.3" stroke="#d09282" stroke-width="0.9" stroke-dasharray="2,1.6"/>
<polyline points="411,620.2 600,619.7 644.5,619.8 660,622.6 680.5,629.1" stroke="#dda99b" stroke-width="0.9" stroke-dasharray="2,1.6"/>
<polyline points="411,620.9 600,620.6 644.5,620.5 660,623.8 680.5,630.2" stroke="#dda99b" stroke-width="0.9" stroke-dasharray="2,1.6"/>
<polyline points="411,621.8 600,621.1 644.5,621.3 660,625.2 680.5,631.4" stroke="#d09282" stroke-width="0.9" stroke-dasharray="2,1.6"/>
<polyline points="411,622.6 600,622.1 644.5,622.2 660,626.1 680.5,632.5" stroke="#dda99b" stroke-width="0.9" stroke-dasharray="2,1.6"/>
<polyline points="411,623.4 600,622.9 644.5,622.8 660,627.1 680.5,633.9" stroke="#dda99b" stroke-width="0.9" stroke-dasharray="2,1.6"/>
<polyline points="411,624.2 600,623.5 644.5,623.8 660,628.5 680.5,635.2" stroke="#d09282" stroke-width="0.9" stroke-dasharray="2,1.6"/>
<polyline points="411,621.7 600,621.2 644.5,621.2 660,625 680.5,631.5" stroke="#a24a37" stroke-width="1.3" stroke-dasharray="3.5,1.8"/>
<polyline points="411,611.4 531.4,611.4 533,613 535,612.8 565.7,611.7 571.1,614.4 578.8,612.4 582.1,613.3" stroke="#a9c1e0" stroke-width="2.6" opacity="0.5"/>
<polyline points="411,611.4 531.4,611.4 533,613 535,612.8 565.7,611.7 571.1,614.4 578.8,612.4 582.1,613.3" stroke="#2a63a8" stroke-width="1.8" stroke-dasharray="2.2,1.2"/>
<polyline points="582.1,613.3 584.3,622.7 588.6,624.9 591.9,621.6 596.3,623.8 613.8,623.1 617.1,626 620.4,628.6 622.6,635.8 624.8,642 653.2,642 656.5,639.6 674,639.1" stroke="#b3c9e3" stroke-width="4" stroke-linejoin="round" opacity="0.6"/>
<polyline points="582.1,613.3 584.3,622.7 588.6,624.9 591.9,621.6 596.3,623.8 613.8,623.1 617.1,626 620.4,628.6 622.6,635.8 624.8,642 653.2,642 656.5,639.6 674,639.1" stroke="#2862a6" stroke-width="1.35" stroke-linejoin="round"/>
</g>
<rect x="417.7" y="594.1" width="20.8" height="6.3" fill="#8e3a27" stroke="#5e2414" stroke-width="0.6"/>
<rect x="442.9" y="580" width="20.8" height="20.4" fill="#135397" stroke="#0b3670" stroke-width="0.6"/>
<path d="M428.1,593.3V595.5M425.9,593.3h4.4M425.9,595.5h4.4" stroke="#222" stroke-width="0.8" fill="none"/>
<path d="M451,580h4.6" stroke="#111" stroke-width="1.2"/>
<text x="428.1" y="590.7" font-size="8.6" font-weight="bold" text-anchor="middle" fill="#111">5.9</text>
<text x="453.3" y="577.8" font-size="8.6" font-weight="bold" text-anchor="middle" fill="#111">18.4</text>
<rect x="400.5" y="544" width="280.4" height="151.7" fill="none" stroke="#9a9a9a" stroke-width="1.5"/>
<path d="M396.1,690.1H400.5M396.1,655H400.5M396.1,619.9H400.5M396.1,584.7H400.5M396.1,549.6H400.5M411.4,695.7V700.1M483,695.7V700.1M554.6,695.7V700.1M626.2,695.7V700.1" stroke="#9a9a9a" stroke-width="1.1" fill="none"/>
<text transform="translate(390.3,690.1) rotate(-90)" font-size="10.8" text-anchor="middle" fill="#333">-2</text>
<text transform="translate(390.3,655) rotate(-90)" font-size="10.8" text-anchor="middle" fill="#333">-1</text>
<text transform="translate(390.3,619.9) rotate(-90)" font-size="10.8" text-anchor="middle" fill="#333">0</text>
<text transform="translate(390.3,584.7) rotate(-90)" font-size="10.8" text-anchor="middle" fill="#333">1</text>
<text transform="translate(390.3,549.6) rotate(-90)" font-size="10.8" text-anchor="middle" fill="#333">2</text>
<text x="411.4" y="710.8" font-size="11" text-anchor="middle" fill="#333">0</text>
<text x="483" y="710.8" font-size="11" text-anchor="middle" fill="#333">1</text>
<text x="554.6" y="710.8" font-size="11" text-anchor="middle" fill="#333">2</text>
<text x="626.2" y="710.8" font-size="11" text-anchor="middle" fill="#333">3</text>
<text x="540.7" y="730.6" font-size="12.3" text-anchor="middle" fill="#222">Intensively raised chicken</text>
<text transform="translate(361,609.5) rotate(-90)" font-size="11.3" text-anchor="middle" fill="#222" textLength="175.5" lengthAdjust="spacingAndGlyphs">Maginal effect on scaled logit(p)</text>
<path d="M400,536.4 C402.8,535.7 411.9,533 416.9,532.3 C421.9,531.6 425.2,532.5 430,532 C434.8,531.5 439.5,529.5 445.4,529 C451.2,528.5 458.9,528.6 465.1,529 C471.3,529.4 475.3,531.4 482.6,531.6 C489.9,531.9 500.9,530.9 508.9,530.5 C516.9,530.1 525,529.9 530.8,529.4 C536.6,528.9 539.6,527.6 543.8,527.2 C548,526.8 551.8,529.4 555.8,527.2 C559.8,525 564,518.5 567.8,514.1 C571.6,509.7 575.9,503.5 578.8,501 C581.7,498.5 583.2,499 585.4,499.2 C587.6,499.4 587.2,499.1 591.9,502 C596.6,504.9 607.6,514.3 613.8,516.7 C620,519.1 624.1,516 629.2,516.3 C634.3,516.6 639.8,517.2 644.5,518.5 C649.2,519.8 653.2,521.5 657.6,523.9 C662,526.3 667,530.6 670.8,532.7 C674.6,534.8 679,535.8 680.6,536.4" stroke="#7aa1cf" stroke-width="1.1" fill="none"/>
<path d="M400,520.7 C402.1,520.1 408.6,517.3 412.5,516.9 C416.4,516.5 418,516.7 423.5,518.5 C429,520.3 439.2,525.6 445.4,527.7 C451.6,529.8 454.5,530.4 460.7,531 C466.9,531.6 474.6,531.7 482.6,531.6 C490.6,531.5 500.9,530.9 508.9,530.5 C516.9,530.1 519.1,530.3 530.8,529.4 C542.4,528.5 563.5,526.5 578.8,525 C594.1,523.5 611.6,520.9 622.6,520.2 C633.6,519.6 638.3,520.5 644.5,521.1 C650.7,521.7 653.8,522.4 659.8,523.9 C665.8,525.4 677.1,528.9 680.6,529.9" stroke="#cf8d80" stroke-width="1.1" fill="none" stroke-linejoin="round"/>
<clipPath id="c30"><rect x="41.6" y="793.4" width="280.9" height="151.7"/></clipPath>
<path d="M41.6,939.5H322.5M41.6,904.4H322.5M41.6,869.2H322.5M41.6,834.1H322.5M41.6,799H322.5M51.5,793.4V945.1M102.8,793.4V945.1M154.1,793.4V945.1M205.4,793.4V945.1M256.7,793.4V945.1M308,793.4V945.1" stroke="#e0e0e0" stroke-width="1" stroke-dasharray="1.2,1.2" fill="none"/>
<rect x="57.1" y="797.9" width="50" height="53" fill="#fff"/>
<g clip-path="url(#c30)" fill="none">
<polyline points="52,864.5 80,865 130,864.7 175,865.9 250,866.4 321.5,866.4" stroke="#d09282" stroke-width="0.9" stroke-dasharray="2,1.6"/>
<polyline points="52,865.6 80,866.3 130,865.6 175,867 250,867.1 321.5,867.1" stroke="#dda99b" stroke-width="0.9" stroke-dasharray="2,1.6"/>
<polyline points="52,867 80,867.6 130,866.8 175,867.9 250,868 321.5,868.1" stroke="#dda99b" stroke-width="0.9" stroke-dasharray="2,1.6"/>
<polyline points="52,868.2 80,868.7 130,868.4 175,868.8 250,868.9 321.5,868.7" stroke="#d09282" stroke-width="0.9" stroke-dasharray="2,1.6"/>
<polyline points="52,869.3 80,869.7 130,869.3 175,870.1 250,869.5 321.5,869.6" stroke="#dda99b" stroke-width="0.9" stroke-dasharray="2,1.6"/>
<polyline points="52,866 80,861.5 130,861 150,864 175,866" stroke="#dda99b" stroke-width="0.9" stroke-dasharray="2,1.6"/>
<polyline points="52,867 80,867.5 130,867 175,868 250,868 321.5,868" stroke="#a24a37" stroke-width="1.3" stroke-dasharray="3.5,1.8"/>
<polyline points="52,863.6 68.5,863.6" stroke="#a9c1e0" stroke-width="2.6" opacity="0.5"/>
<polyline points="52,863.6 68.5,863.6" stroke="#2a63a8" stroke-width="1.8" stroke-dasharray="2.2,1.2"/>
<polyline points="68.5,863.6 75,860.3 78.3,862.1 82.7,867.6 105.7,866.9 134.2,866.2 149.5,865.8 153.9,866.9 171.4,866.9 176.9,865.1 181.6,868.5 196.9,869.6 214.4,870.7 223.2,875 258.2,875.5 262.6,876.6 271.3,876.1 284.5,879 295.4,879.4 302,877.2 316.2,876.8 318.4,862 320.6,856 322.5,854" stroke="#b3c9e3" stroke-width="4" stroke-linejoin="round" opacity="0.6"/>
<polyline points="68.5,863.6 75,860.3 78.3,862.1 82.7,867.6 105.7,866.9 134.2,866.2 149.5,865.8 153.9,866.9 171.4,866.9 176.9,865.1 181.6,868.5 196.9,869.6 214.4,870.7 223.2,875 258.2,875.5 262.6,876.6 271.3,876.1 284.5,879 295.4,879.4 302,877.2 316.2,876.8 318.4,862 320.6,856 322.5,854" stroke="#2862a6" stroke-width="1.35" stroke-linejoin="round"/>
</g>
<rect x="58.8" y="845.9" width="20.8" height="3.9" fill="#8e3a27" stroke="#5e2414" stroke-width="0.6"/>
<rect x="84" y="839.8" width="20.8" height="10" fill="#135397" stroke="#0b3670" stroke-width="0.6"/>
<path d="M69.2,844.5V847M67,844.5h4.4M67,847h4.4" stroke="#222" stroke-width="0.8" fill="none"/>
<path d="M92.1,839.8h4.6" stroke="#111" stroke-width="1.2"/>
<text x="69.2" y="842.2" font-size="8.6" font-weight="bold" text-anchor="middle" fill="#111">3.2</text>
<text x="94.4" y="836.9" font-size="8.6" font-weight="bold" text-anchor="middle" fill="#111">8.8</text>
<rect x="41.6" y="793.4" width="280.9" height="151.7" fill="none" stroke="#9a9a9a" stroke-width="1.5"/>
<path d="M37.2,939.5H41.6M37.2,904.4H41.6M37.2,869.2H41.6M37.2,834.1H41.6M37.2,799H41.6M51.5,945.1V949.5M102.8,945.1V949.5M154.1,945.1V949.5M205.4,945.1V949.5M256.7,945.1V949.5M308,945.1V949.5" stroke="#9a9a9a" stroke-width="1.1" fill="none"/>
<text transform="translate(31.4,939.5) rotate(-90)" font-size="10.8" text-anchor="middle" fill="#333">-2</text>
<text transform="translate(31.4,904.4) rotate(-90)" font-size="10.8" text-anchor="middle" fill="#333">-1</text>
<text transform="translate(31.4,869.2) rotate(-90)" font-size="10.8" text-anchor="middle" fill="#333">0</text>
<text transform="translate(31.4,834.1) rotate(-90)" font-size="10.8" text-anchor="middle" fill="#333">1</text>
<text transform="translate(31.4,799) rotate(-90)" font-size="10.8" text-anchor="middle" fill="#333">2</text>
<text x="51.5" y="960.2" font-size="11" text-anchor="middle" fill="#333">0.0</text>
<text x="102.8" y="960.2" font-size="11" text-anchor="middle" fill="#333">0.1</text>
<text x="154.1" y="960.2" font-size="11" text-anchor="middle" fill="#333">0.2</text>
<text x="205.4" y="960.2" font-size="11" text-anchor="middle" fill="#333">0.3</text>
<text x="256.7" y="960.2" font-size="11" text-anchor="middle" fill="#333">0.4</text>
<text x="308" y="960.2" font-size="11" text-anchor="middle" fill="#333">0.5</text>
<text x="182.1" y="981.2" font-size="12.3" text-anchor="middle" fill="#222">Rice paddy fields</text>
<text transform="translate(8.9,858.9) rotate(-90)" font-size="11.3" text-anchor="middle" fill="#222" textLength="175.5" lengthAdjust="spacingAndGlyphs">Maginal effect on scaled logit(p)</text>
<path d="M40.5,782 C43.2,780.3 51.4,774.6 56.9,771.7 C62.4,768.8 68.5,765.5 73.3,764.5 C78,763.5 79.7,765.1 85.4,765.8 C91.1,766.5 99.3,767 107.3,768.5 C115.3,770 125.1,772.8 133.5,774.6 C141.9,776.4 149,778.6 157.6,779.4 C166.2,780.2 176.6,779 185,779.4 C193.4,779.8 198.5,781.4 207.8,781.6 C217.1,781.8 230.8,780.9 240.7,780.5 C250.6,780.1 259.3,780.3 267,779.4 C274.7,778.5 281.6,775.4 286.7,775 C291.8,774.6 293.6,775.7 297.6,777.2 C301.6,778.7 306.7,782.3 310.8,783.8 C314.9,785.3 320.2,785.6 322.1,786" stroke="#7aa1cf" stroke-width="1.1" fill="none"/>
<path d="M40.5,768.9 C41.8,766.8 44.8,759.8 48.1,756.4 C51.4,753 56.6,749 60.2,748.3 C63.9,747.6 66.2,749.4 70,752 C73.8,754.6 78.8,760.8 83.2,764.1 C87.6,767.4 91.6,769.8 96.3,771.7 C101,773.6 105.4,774.5 111.6,775.5 C117.8,776.5 125.8,777 133.5,777.7 C141.2,778.4 149,779.4 157.6,779.9 C166.2,780.4 171.2,779.9 185,780.5 C198.8,781.1 224.1,783 240.7,783.8 C257.3,784.6 270.9,785 284.5,785.3 C298.1,785.6 315.8,785.5 322.1,785.5" stroke="#cf8d80" stroke-width="1.1" fill="none" stroke-linejoin="round"/>
<clipPath id="c31"><rect x="400.5" y="793.4" width="280.4" height="151.7"/></clipPath>
<path d="M400.5,939.5H680.9M400.5,904.4H680.9M400.5,869.2H680.9M400.5,834.1H680.9M400.5,799H680.9M410.6,793.4V945.1M479.6,793.4V945.1M548.6,793.4V945.1M617.6,793.4V945.1" stroke="#e0e0e0" stroke-width="1" stroke-dasharray="1.2,1.2" fill="none"/>
<rect x="416" y="797.9" width="50" height="53" fill="#fff"/>
<g clip-path="url(#c31)" fill="none">
<polyline points="411,869.5 470,870.2 520,867.8 550,865.8 580,863.8 610,864.3 640,867.2 680.5,867.6" stroke="#d09282" stroke-width="0.9" stroke-dasharray="2,1.6"/>
<polyline points="411,872 470,871.9 520,870.2 550,867.9 580,866.1 610,866.9 640,868.2 680.5,869.1" stroke="#dda99b" stroke-width="0.9" stroke-dasharray="2,1.6"/>
<polyline points="411,873.6 470,873.8 520,872.3 550,870.5 580,868.5 610,868.4 640,870 680.5,871" stroke="#dda99b" stroke-width="0.9" stroke-dasharray="2,1.6"/>
<polyline points="411,875.8 470,876.3 520,874.5 550,872.5 580,870.7 610,871 640,871.8 680.5,872.3" stroke="#d09282" stroke-width="0.9" stroke-dasharray="2,1.6"/>
<polyline points="411,878.6 470,878.4 520,876.4 550,874.2 580,873.5 610,872.9 640,873.3 680.5,874" stroke="#dda99b" stroke-width="0.9" stroke-dasharray="2,1.6"/>
<polyline points="411,880.5 470,880.6 520,879.2 550,876.7 580,875.2 610,875.3 640,874.9 680.5,875.4" stroke="#dda99b" stroke-width="0.9" stroke-dasharray="2,1.6"/>
<polyline points="411,874.4 470,874.4 520,873.5 550,872 580,871 610,870.5 640,870.5 680.5,870.5" stroke="#a24a37" stroke-width="1.3" stroke-dasharray="3.5,1.8"/>
<polyline points="411.2,913.3 420.4,913.3" stroke="#a9c1e0" stroke-width="2.6" opacity="0.5"/>
<polyline points="411.2,913.3 420.4,913.3" stroke="#2a63a8" stroke-width="1.8" stroke-dasharray="2.2,1.2"/>
<polyline points="420.4,913.3 424.5,900.9 430.7,889.4 436.8,890.7 443.9,889.8 449,888.4 470,888.1 481,888.6 488.7,882.3 496.3,884.9 535,885.3 578.8,885.5 589.7,883.8 596.3,882.3 602.9,883.1 608.4,875 610.5,869.6 612.7,853.6 617.1,861.9 622.6,865.2 631.3,864.1 637.9,865.8 646.7,865.8 651,862.3 655.4,866.3 666.4,865.8 670.8,858.6 679.5,861.5" stroke="#b3c9e3" stroke-width="4" stroke-linejoin="round" opacity="0.6"/>
<polyline points="420.4,913.3 424.5,900.9 430.7,889.4 436.8,890.7 443.9,889.8 449,888.4 470,888.1 481,888.6 488.7,882.3 496.3,884.9 535,885.3 578.8,885.5 589.7,883.8 596.3,882.3 602.9,883.1 608.4,875 610.5,869.6 612.7,853.6 617.1,861.9 622.6,865.2 631.3,864.1 637.9,865.8 646.7,865.8 651,862.3 655.4,866.3 666.4,865.8 670.8,858.6 679.5,861.5" stroke="#2862a6" stroke-width="1.35" stroke-linejoin="round"/>
</g>
<rect x="417.7" y="846.2" width="20.8" height="3.6" fill="#8e3a27" stroke="#5e2414" stroke-width="0.6"/>
<rect x="442.9" y="833" width="20.8" height="16.8" fill="#135397" stroke="#0b3670" stroke-width="0.6"/>
<path d="M428.1,844.8V847.5M425.9,844.8h4.4M425.9,847.5h4.4" stroke="#222" stroke-width="0.8" fill="none"/>
<path d="M451,833h4.6" stroke="#111" stroke-width="1.2"/>
<text x="428.1" y="842.7" font-size="8.6" font-weight="bold" text-anchor="middle" fill="#111">3</text>
<text x="453.3" y="830.9" font-size="8.6" font-weight="bold" text-anchor="middle" fill="#111">14.8</text>
<rect x="400.5" y="793.4" width="280.4" height="151.7" fill="none" stroke="#9a9a9a" stroke-width="1.5"/>
<path d="M396.1,939.5H400.5M396.1,904.4H400.5M396.1,869.2H400.5M396.1,834.1H400.5M396.1,799H400.5M410.6,945.1V949.5M479.6,945.1V949.5M548.6,945.1V949.5M617.6,945.1V949.5" stroke="#9a9a9a" stroke-width="1.1" fill="none"/>
<text transform="translate(390.3,939.5) rotate(-90)" font-size="10.8" text-anchor="middle" fill="#333">-2</text>
<text transform="translate(390.3,904.4) rotate(-90)" font-size="10.8" text-anchor="middle" fill="#333">-1</text>
<text transform="translate(390.3,869.2) rotate(-90)" font-size="10.8" text-anchor="middle" fill="#333">0</text>
<text transform="translate(390.3,834.1) rotate(-90)" font-size="10.8" text-anchor="middle" fill="#333">1</text>
<text transform="translate(390.3,799) rotate(-90)" font-size="10.8" text-anchor="middle" fill="#333">2</text>
<text x="410.6" y="960.2" font-size="11" text-anchor="middle" fill="#333">0.00</text>
<text x="479.6" y="960.2" font-size="11" text-anchor="middle" fill="#333">0.02</text>
<text x="548.6" y="960.2" font-size="11" text-anchor="middle" fill="#333">0.04</text>
<text x="617.6" y="960.2" font-size="11" text-anchor="middle" fill="#333">0.06</text>
<text x="540.7" y="981.2" font-size="12.3" text-anchor="middle" fill="#222">Permanent water</text>
<text transform="translate(361,858.9) rotate(-90)" font-size="11.3" text-anchor="middle" fill="#222" textLength="175.5" lengthAdjust="spacingAndGlyphs">Maginal effect on scaled logit(p)</text>
<path d="M399.8,786 C402.6,785.3 411.5,782.9 416.9,782 C422.3,781.1 427.4,780.6 432.2,780.5 C436.9,780.4 439.9,780.9 445.4,781.6 C450.9,782.3 457.1,784.2 465.1,784.9 C473.1,785.6 480.2,785.8 493.5,786 C506.8,786.2 513.8,786.3 545,786.4 C576.2,786.5 658.3,786.4 681,786.4" stroke="#7aa1cf" stroke-width="1.1" fill="none"/>
<path d="M403.3,782.7 L412.1,748.8 L415.8,773.9 L421.3,782 L434.4,784.9 L460.7,786 L545,786.4 L681,786.4" stroke="#cf8d80" stroke-width="1.1" fill="none" stroke-linejoin="round"/>
<path d="M500,786.4H681" stroke="#6a6d90" stroke-width="1"/>
</svg></body></html>
